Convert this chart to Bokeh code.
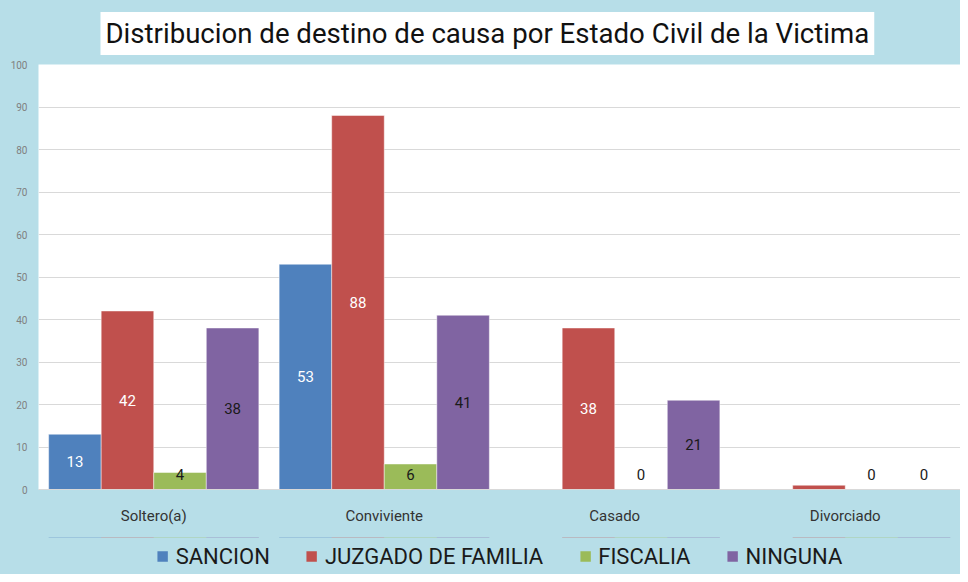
import math
from bokeh.plotting import figure
from bokeh.layouts import column
from bokeh.models import (ColumnDataSource, FactorRange, Legend, LegendItem, Title,
                          FixedTicker)
from bokeh.transform import dodge
from bokeh.core.properties import value
from bokeh.embed import file_html
from bokeh.resources import INLINE

categories = ["Soltero(a)", "Conviviente", "Casado", "Divorciado"]
series_names = ["SANCION", "JUZGADO DE FAMILIA", "FISCALIA", "NINGUNA"]
sancion = [13, 53, float("nan"), float("nan")]
juzgado = [42, 88, 38, 1]
fiscalia = [4, 6, 0, 0]
ninguna = [38, 41, 21, 0]
# which data labels are visible in the original
sancion_show = [True, True, False, False]
juzgado_show = [True, True, True, False]
fiscalia_show = [True, True, True, True]
ninguna_show = [True, True, True, True]
y_ticks = list(range(0, 101, 10))

colors = ["#4f81bd", "#c0504d", "#9bbb59", "#8064a2"]
label_colors = ["white", "white", "#1a1a1a", "#1a1a1a"]
all_values = [sancion, juzgado, fiscalia, ninguna]
all_show = [sancion_show, juzgado_show, fiscalia_show, ninguna_show]

FONT = "Roboto"
BG = "#b7dee8"

# ---------------- main chart ----------------
p = figure(x_range=FactorRange(*categories, range_padding=0), y_range=(0, 100),
           width=960, height=537, output_backend="svg", toolbar_location=None,
           min_border_left=38, min_border_right=0, min_border_top=63, min_border_bottom=48)
p.border_fill_color = BG
p.background_fill_color = "white"
p.outline_line_color = None

# legend strip (separate figure so the legend sits outside the plot area)
leg = figure(x_range=FactorRange(*categories), y_range=(-20, -10),
             width=960, height=37, output_backend="svg", toolbar_location=None,
             x_axis_type=None, y_axis_type=None,
             min_border_left=4, min_border_right=0, min_border_top=0, min_border_bottom=0)
leg.border_fill_color = BG
leg.background_fill_color = BG
leg.outline_line_color = None
leg.xgrid.grid_line_color = None
leg.ygrid.grid_line_color = None

bw = 0.228
offsets = [-1.5 * bw, -0.5 * bw, 0.5 * bw, 1.5 * bw]

items = []
for name, vals, show, col, lcol, off in zip(series_names, all_values, all_show,
                                            colors, label_colors, offsets):
    labels = [(str(int(v)) if (s and not math.isnan(v)) else "") for v, s in zip(vals, show)]
    label_y = [max((0 if math.isnan(v) else v) / 2, 3.5) for v in vals]
    src = ColumnDataSource(dict(cat=categories, val=vals, lab=labels, ly=label_y))
    p.vbar(x=dodge("cat", off, range=p.x_range), top="val", bottom=0, width=bw,
           source=src, fill_color=col, line_color="white", line_alpha=0.45, line_width=1)
    p.text(x=dodge("cat", off, range=p.x_range), y="ly", text="lab", source=src,
           text_align="center", text_baseline="middle", text_color=lcol,
           text_font=value(FONT), text_font_size="15px")
    # zero-height copies outside the strip's visible range -> only legend swatches show
    r = leg.vbar(x=dodge("cat", off, range=leg.x_range), top="val", bottom="val", width=bw,
                 source=src, fill_color=col, line_color=None)
    items.append(LegendItem(label=name, renderers=[r]))

# axes
p.yaxis.ticker = FixedTicker(ticks=y_ticks)
p.yaxis.major_tick_line_color = None
p.yaxis.minor_tick_line_color = None
p.yaxis.major_tick_out = 0
p.yaxis.major_tick_in = 0
p.yaxis.axis_line_color = None
p.yaxis.major_label_text_font = FONT
p.yaxis.major_label_text_font_size = "10px"
p.yaxis.major_label_text_color = "#808080"
p.yaxis.major_label_standoff = 11

p.xaxis.major_tick_line_color = None
p.xaxis.minor_tick_line_color = None
p.xaxis.major_tick_out = 0
p.xaxis.major_tick_in = 0
p.xaxis.axis_line_color = "#d9d9d9"
p.xaxis.major_label_text_font = FONT
p.xaxis.major_label_text_font_size = "15px"
p.xaxis.major_label_text_color = "#333333"
p.xaxis.major_label_standoff = 17

p.xgrid.grid_line_color = None
p.ygrid.grid_line_color = "#d9d9d9"
p.ygrid.grid_line_width = 1.2

p.title = Title(text="Distribucion de destino de causa por Estado Civil de la Victima",
                text_font=FONT, text_font_size="27.6px", text_color="#111111",
                text_font_style="normal", align="left", offset=62,
                background_fill_color="white", padding=5, standoff=19)

legend = Legend(items=items, orientation="horizontal", location="center",
                background_fill_alpha=0, border_line_color=None,
                label_text_font=FONT, label_text_font_size="22px",
                label_text_color="#1a1a1a", glyph_width=13, glyph_height=13,
                label_standoff=7, spacing=35, padding=0, margin=0)
leg.add_layout(legend)

layout = column(p, leg, spacing=0, styles={"background-color": BG})
open("out.html", "w").write(file_html(layout, INLINE))
